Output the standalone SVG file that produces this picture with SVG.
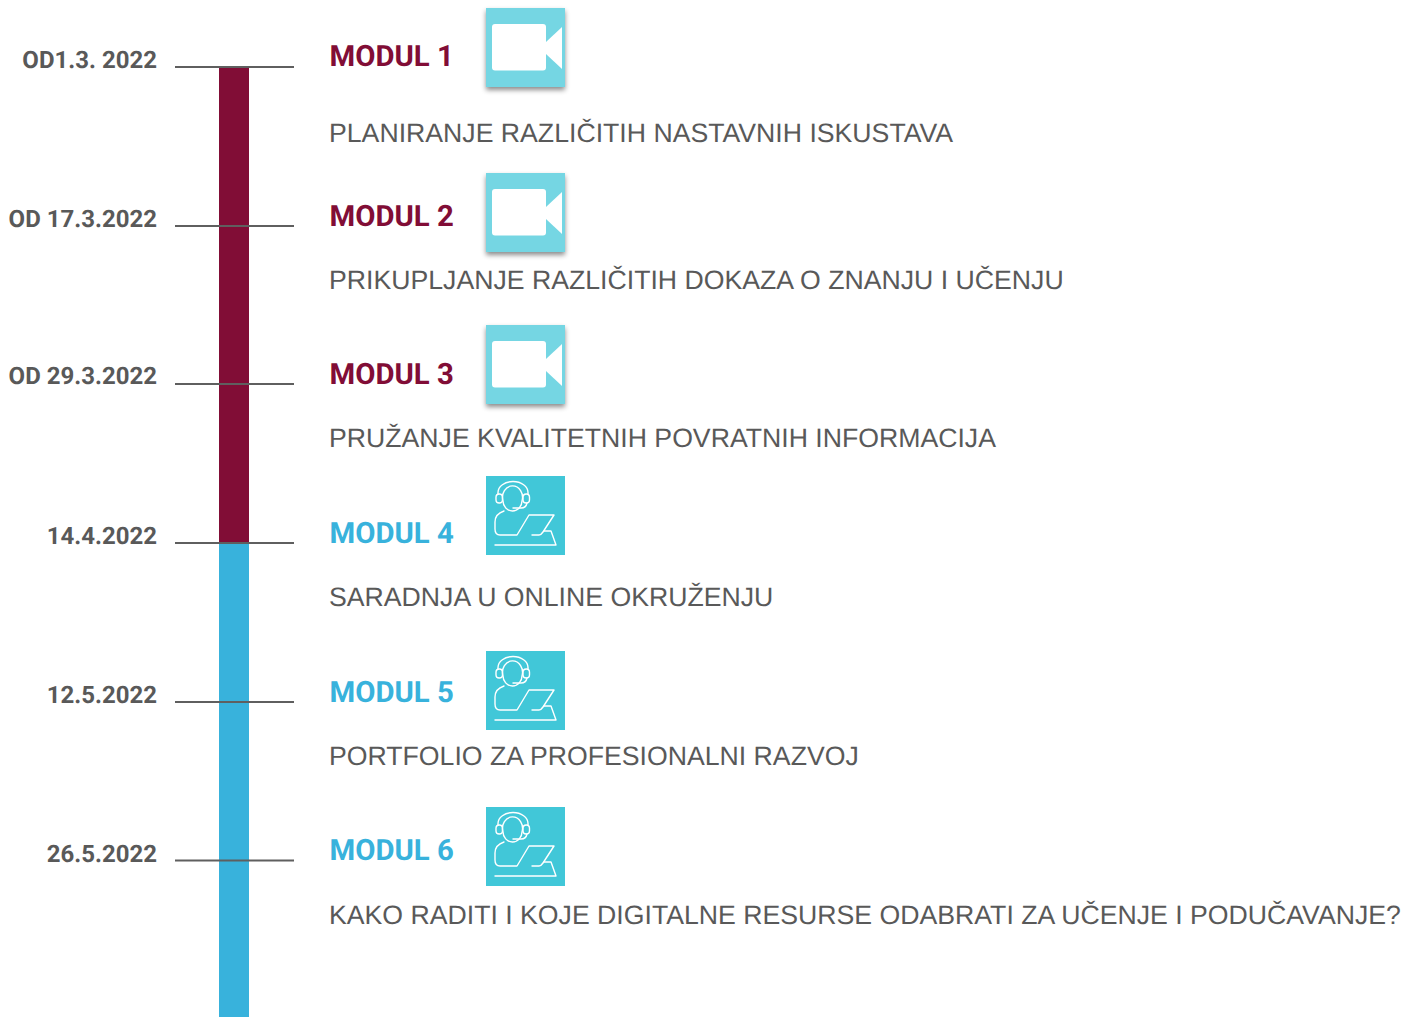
<svg xmlns="http://www.w3.org/2000/svg" width="1404" height="1017" viewBox="0 0 1404 1017">
<style>
text{font-family:Roboto,"Liberation Sans",sans-serif;text-rendering:geometricPrecision}
.d{font-size:24px;font-weight:700;fill:#595959;text-anchor:end}
.m{font-size:29.330px;font-weight:700}
.m1{fill:#810d36}.m2{fill:#38b2dc}
.t{font-family:"Liberation Sans",Arial,sans-serif;font-size:26.670px;fill:#595959}
.tick{stroke:#5f5f5f;stroke-width:2;fill:none}
.l{fill:none;stroke:#fff;stroke-width:1.400;stroke-linecap:round;stroke-linejoin:round}
</style>
<defs>
<filter id="sh" x="-20%" y="-20%" width="140%" height="140%"><feDropShadow dx="0" dy="3" stdDeviation="2.500" flood-color="#000" flood-opacity=".45"/></filter>
<g id="cam">
<rect width="79" height="79" fill="#75d6e3" filter="url(#sh)"/>
<rect x="6" y="16" width="54" height="46.500" rx="3" fill="#fff"/>
<path d="M60 34L76 19V61L60 46Z" fill="#fff"/>
</g>
<g id="agent">
<rect width="79" height="79" fill="#41c7d8"/>
<g class="l">
<path d="M17 25A10 11.500 0 1 1 36 25C36 30 32 35 26.500 35C21 35 17 30 17 25Z"/>
<path d="M12 18V16.500A15 11 0 0 1 42 16.500V18"/>
<rect x="10" y="18" width="6.500" height="9" rx="3.200"/>
<rect x="37" y="18" width="6.500" height="9" rx="3.200"/>
<path d="M41 27Q40 32 35 32H27"/>
<path d="M18 35C12 37 9 41 9 46V53Q9 59 14 59H31L43 39H68L57 56Q55 59 53 59H46"/>
<path d="M58 55H65L70 69H9"/>
</g>
</g>
</defs>
<g id="timeline">
<rect x="219" y="67" width="30" height="476" fill="#810d36"/>
<rect x="219" y="543" width="30" height="474" fill="#38b2dc"/>
</g>
<g id="connectors">
<path class="tick" d="M175 67H294M175 226H294M175 384H294M175 543H294M175 702H294M175 860.500H294"/>
</g>
<g id="node1"><text class="d" x="157" y="68">OD1.3. 2022</text><text class="m m1" x="329.500" y="66">MODUL 1</text><use href="#cam" x="486" y="8"/><text class="t" x="329" y="142">PLANIRANJE RAZLIČITIH NASTAVNIH ISKUSTAVA</text></g>
<g id="node2"><text class="d" x="157" y="227">OD 17.3.2022</text><text class="m m1" x="329.500" y="226">MODUL 2</text><use href="#cam" x="486" y="173"/><text class="t" x="329" y="289">PRIKUPLJANJE RAZLIČITIH DOKAZA O ZNANJU I UČENJU</text></g>
<g id="node3"><text class="d" x="157" y="384">OD 29.3.2022</text><text class="m m1" x="329.500" y="384">MODUL 3</text><use href="#cam" x="486" y="325"/><text class="t" x="329" y="447">PRUŽANJE KVALITETNIH POVRATNIH INFORMACIJA</text></g>
<g id="node4"><text class="d" x="157" y="544">14.4.2022</text><text class="m m2" x="329.500" y="543">MODUL 4</text><use href="#agent" x="486" y="476"/><text class="t" x="329" y="606">SARADNJA U ONLINE OKRUŽENJU</text></g>
<g id="node5"><text class="d" x="157" y="703">12.5.2022</text><text class="m m2" x="329.500" y="702">MODUL 5</text><use href="#agent" x="486" y="651"/><text class="t" x="329" y="765">PORTFOLIO ZA PROFESIONALNI RAZVOJ</text></g>
<g id="node6"><text class="d" x="157" y="862">26.5.2022</text><text class="m m2" x="329.500" y="860">MODUL 6</text><use href="#agent" x="486" y="807"/><text class="t" x="329" y="924">KAKO RADITI I KOJE DIGITALNE RESURSE ODABRATI ZA UČENJE I PODUČAVANJE?</text></g>
</svg>
